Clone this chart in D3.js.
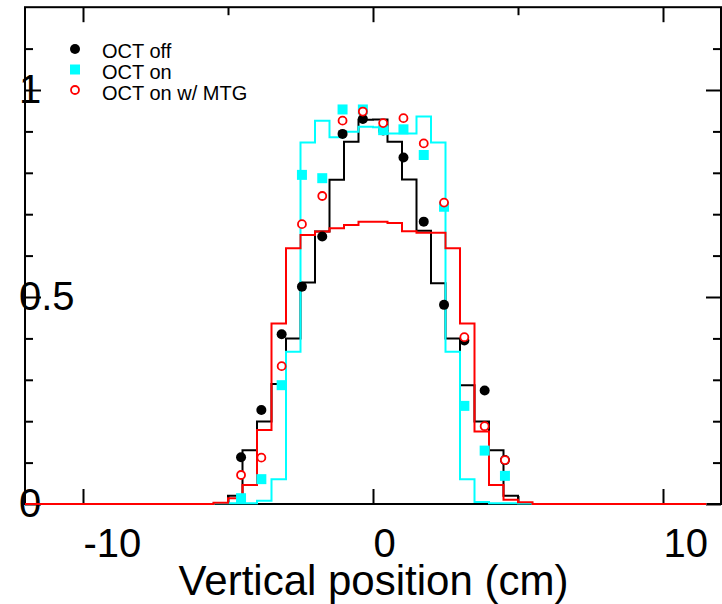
<!DOCTYPE html>
<html>
<head>
<meta charset="utf-8">
<script src="https://cdn.jsdelivr.net/npm/d3@7"></script>
<style>
  html, body { margin: 0; padding: 0; background: #fff; }
  svg { display: block; font-family: "Liberation Sans", Arial, Helvetica, sans-serif; }
</style>
</head>
<body>
<svg id="chart" width="722" height="604"></svg>
<script>
// Histogram bin edges (cm): one wide empty bin each side, then 0.5 cm bins
const binEdges = [-12, -5.5, -5, -4.5, -4, -3.5, -3, -2.5, -2, -1.5, -1, -0.5, 0,
                  0.5, 1, 1.5, 2, 2.5, 3, 3.5, 4, 4.5, 5, 5.5, 11.5];

// Simulated profiles (one value per bin)
const histOctOff = [0, 0, 0.02, 0.13, 0.199, 0.29, 0.40, 0.535, 0.658, 0.783, 0.875, 0.928,
                    0.929, 0.875, 0.784, 0.66, 0.533, 0.40, 0.287, 0.199, 0.13, 0.02, 0, 0];
const histOctOn  = [0, 0.002, 0.002, 0.002, 0.008, 0.06, 0.368, 0.873, 0.926, 0.886, 0.899, 0.911,
                    0.91, 0.895, 0.895, 0.936, 0.873, 0.368, 0.06, 0.005, 0.002, 0.002, 0.001, 0];
const histOctMtg = [0, 0.003, 0.014, 0.046, 0.179, 0.436, 0.618, 0.65, 0.658, 0.666, 0.674, 0.682,
                    0.682, 0.679, 0.659, 0.655, 0.655, 0.618, 0.436, 0.175, 0.046, 0.01, 0.004, 0];

// Measured points: detector positions (cm) and normalised signal
const pointPos    = [-4.55, -3.85, -3.15, -2.45, -1.75, -1.05, -0.35, 0.35, 1.05, 1.75, 2.45, 3.15, 3.85, 4.55];
const pointsOff   = [0.113, 0.227, 0.41, 0.525, 0.646, 0.894, 0.93, 0.902, 0.837, 0.682, 0.481, 0.395, 0.274, 0.106];
const pointsOn    = [0.014, 0.06, 0.287, 0.795, 0.787, 0.953, 0.953, 0.903, 0.905, 0.843, 0.718, 0.237, 0.129, 0.068];
const pointsMtg   = [0.07, 0.112, 0.333, 0.676, 0.744, 0.926, 0.948, 0.92, 0.932, 0.871, 0.728, 0.403, 0.188, 0.106];

const xMajor = [-10, 0, 10];
const xMinor = [-5, 5];
const yMajor = [0, 0.5, 1];
const yMinor = [0.1, 0.2, 0.3, 0.4, 0.6, 0.7, 0.8, 0.9, 1.1];
const legendLabels = ["OCT off", "OCT on", "OCT on w/ MTG"];
const xTitle = "Vertical position (cm)";

const svg = d3.select("#chart");
const L = 25, R = 721, T = 7.2, B = 504;
const x = d3.scaleLinear().domain([-12, 12]).range([L, R]);
const y = d3.scaleLinear().domain([0, 1.2]).range([B, T]);

svg.append("defs").append("clipPath").attr("id", "plotArea")
  .append("rect").attr("x", L).attr("y", T - 2).attr("width", R - L).attr("height", B - T + 4);

// Frame
svg.append("rect").attr("x", L).attr("y", T).attr("width", R - L).attr("height", B - T)
  .attr("fill", "none").attr("stroke", "#000").attr("stroke-width", 2);

// Ticks (pointing inward on all four sides)
function tickAxis(axis, tx, ty) {
  const g = svg.append("g").attr("transform", `translate(${tx},${ty})`).call(axis);
  g.select(".domain").remove();
  g.selectAll(".tick line").attr("stroke", "#000").attr("stroke-width", 2);
  return g;
}
const xb = tickAxis(d3.axisBottom(x).tickValues(xMajor).tickSize(-15).tickFormat(d => String(d)), 0, B);
tickAxis(d3.axisBottom(x).tickValues(xMinor).tickSize(-8).tickFormat(""), 0, B);
tickAxis(d3.axisTop(x).tickValues(xMajor).tickSize(-15).tickFormat(""), 0, T);
tickAxis(d3.axisTop(x).tickValues(xMinor).tickSize(-8).tickFormat(""), 0, T);
const yl = tickAxis(d3.axisLeft(y).tickValues(yMajor).tickSize(-16).tickFormat(d => String(d)), L, 0);
tickAxis(d3.axisLeft(y).tickValues(yMinor).tickSize(-8).tickFormat(""), L, 0);
tickAxis(d3.axisRight(y).tickValues(yMajor).tickSize(-15).tickFormat(""), R, 0);
tickAxis(d3.axisRight(y).tickValues(yMinor).tickSize(-8).tickFormat(""), R, 0);

xb.selectAll(".tick text")
  .attr("text-anchor", "start").attr("x", 0).attr("y", 53).attr("dy", null)
  .attr("font-size", 40).attr("font-family", "Liberation Sans, Arial, sans-serif").attr("fill", "#000");
yl.selectAll(".tick text")
  .attr("text-anchor", "start").attr("x", -L + 19).attr("y", 12).attr("dy", null)
  .attr("font-size", 40).attr("font-family", "Liberation Sans, Arial, sans-serif").attr("fill", "#000");

// Axis title
svg.append("text").attr("x", 373.5).attr("y", 595).attr("text-anchor", "middle")
  .attr("font-size", 42).text(xTitle);

// Step outlines of the histograms, drawn over the frame
function stepPoints(vals) {
  const pts = vals.map((v, i) => [binEdges[i], v]);
  pts.push([binEdges[binEdges.length - 1], vals[vals.length - 1]]);
  return pts;
}
const stepLine = d3.line().x(d => x(d[0])).y(d => y(d[1])).curve(d3.curveStepAfter);

const hists = [
  { vals: histOctOff, color: "#000000" },
  { vals: histOctOn,  color: "#00ffff" },
  { vals: histOctMtg, color: "#ff0000" }
];
const histG = svg.append("g").attr("clip-path", "url(#plotArea)");
hists.forEach(h => {
  histG.append("path")
    .attr("d", stepLine(stepPoints(h.vals)))
    .attr("fill", "none")
    .attr("stroke", h.color)
    .attr("stroke-width", 2);
});

// Data points
const pg = svg.append("g");
pg.selectAll("circle.off").data(pointPos).join("circle").attr("class", "off")
  .attr("cx", d => x(d)).attr("cy", (d, i) => y(pointsOff[i])).attr("r", 5).attr("fill", "#000");
const sq = d3.symbol().type(d3.symbolSquare).size(100);
pg.selectAll("path.on").data(pointPos).join("path").attr("class", "on")
  .attr("transform", (d, i) => `translate(${x(d)},${y(pointsOn[i])})`).attr("d", sq()).attr("fill", "#00ffff");
pg.selectAll("circle.mtg").data(pointPos).join("circle").attr("class", "mtg")
  .attr("cx", d => x(d)).attr("cy", (d, i) => y(pointsMtg[i])).attr("r", 4)
  .attr("fill", "#fff").attr("stroke", "#ff0000").attr("stroke-width", 1.8);

// Legend
const lg = svg.append("g");
const rows = [58, 79, 100];
lg.append("circle").attr("cx", 75).attr("cy", rows[0] - 9).attr("r", 5).attr("fill", "#000");
lg.append("path").attr("transform", `translate(75,${rows[1] - 9.5})`).attr("d", sq()).attr("fill", "#00ffff");
lg.append("circle").attr("cx", 75).attr("cy", rows[2] - 10).attr("r", 4)
  .attr("fill", "#fff").attr("stroke", "#ff0000").attr("stroke-width", 1.8);
legendLabels.forEach((t, i) => {
  lg.append("text").attr("x", 102).attr("y", rows[i]).attr("font-size", 20).text(t);
});
</script>
</body>
</html>
